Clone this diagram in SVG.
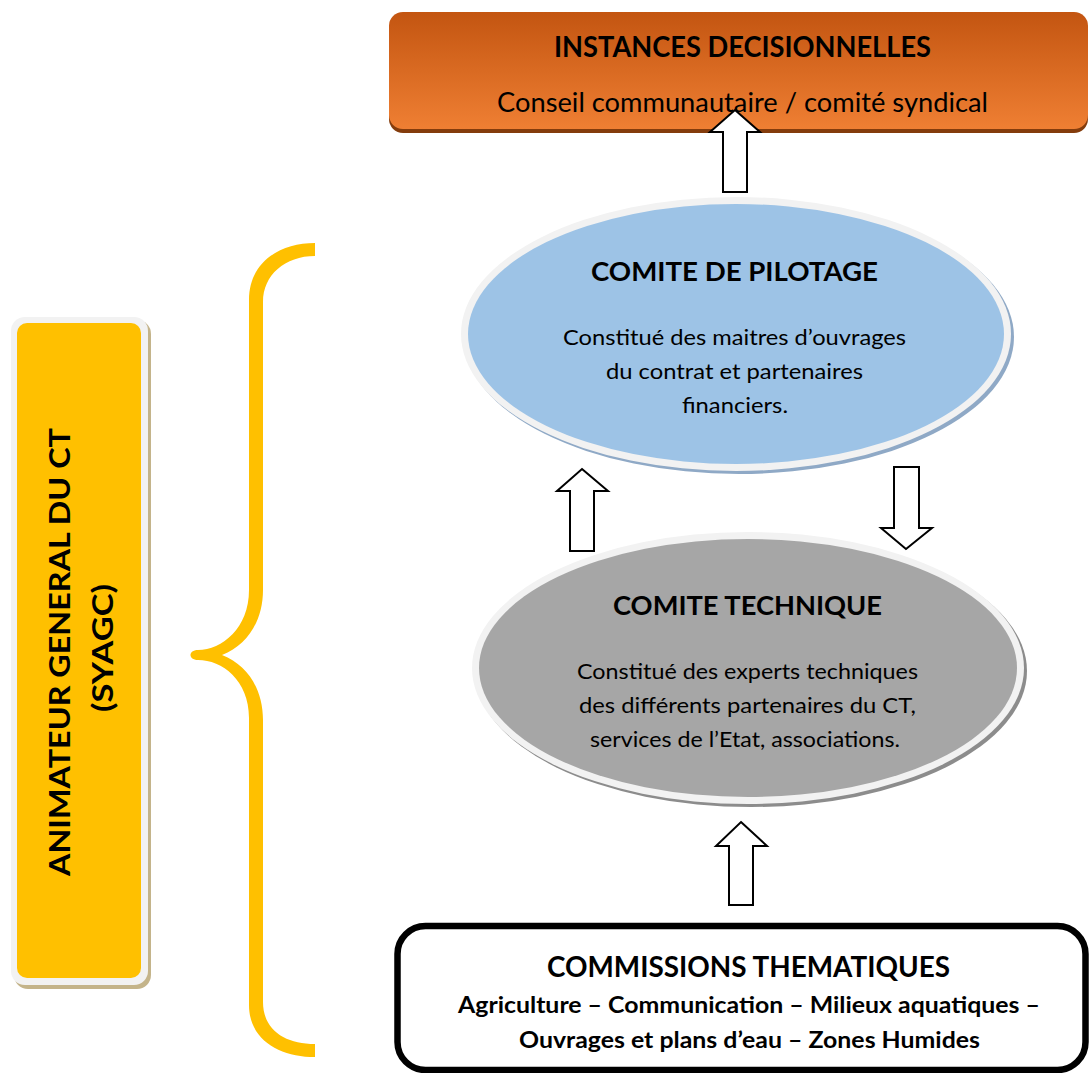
<svg xmlns="http://www.w3.org/2000/svg" width="1089" height="1073" viewBox="0 0 1089 1073">
<defs>
<linearGradient id="orange" x1="0" y1="0" x2="0" y2="1">
<stop offset="0" stop-color="#C35511"/>
<stop offset="1" stop-color="#EF7F33"/>
</linearGradient>
<style>
.t{font-family:Lato,"Liberation Sans",sans-serif;fill:#000;text-anchor:middle}
.b{font-weight:bold}
.arrow{fill:#fff;stroke:#000;stroke-width:2;stroke-linejoin:miter}
</style>
</defs>
<rect width="1089" height="1073" fill="#fff"/>

<g id="brace">
<path fill="#FFC000" d="M315,243 C280,243 249,262 249,300 L249,590 C249,628 222,650 198,650 C188,650 188,660 198,660 C222,660 249,680 249,718 L249,1005 C249,1040 280,1057 315,1057 L315,1044 C285,1044 263,1030 263,1002 L263,720 C263,690 248,665 222,655 C248,645 263,620 263,590 L263,302 C263,275 285,256 315,256 Z"/>
</g>

<g id="animateur">
<rect x="14" y="320" width="137" height="669" rx="14" fill="#C4B48A"/>
<rect x="11" y="317" width="137" height="668" rx="14" fill="#F2F2F2"/>
<rect x="17" y="323" width="124" height="655" rx="10" fill="#FFC000"/>
<text class="t b" transform="translate(70,652) rotate(-90)" font-size="29" textLength="448" lengthAdjust="spacingAndGlyphs">ANIMATEUR GENERAL DU CT</text>
<text class="t b" transform="translate(113,648) rotate(-90)" font-size="29" textLength="128" lengthAdjust="spacingAndGlyphs">(SYAGC)</text>
</g>

<g id="instances">
<rect x="389" y="16" width="699" height="117" rx="14" fill="#843C0C"/>
<rect x="389" y="12" width="699" height="117" rx="14" fill="url(#orange)"/>
<text class="t b" x="742.5" y="57" font-size="28" textLength="377" lengthAdjust="spacingAndGlyphs">INSTANCES DECISIONNELLES</text>
<text class="t" x="742.5" y="112" font-size="27" textLength="491" lengthAdjust="spacingAndGlyphs">Conseil communautaire / comité syndical</text>
</g>

<g id="pilotage">
<ellipse cx="739" cy="337" rx="275" ry="137" fill="#8FA9C6"/>
<ellipse cx="736" cy="334" rx="275" ry="137" fill="#F2F2F2"/>
<ellipse cx="736" cy="334" rx="268" ry="130" fill="#9DC3E6"/>
<text class="t b" x="734.5" y="281" font-size="27" textLength="287" lengthAdjust="spacingAndGlyphs">COMITE DE PILOTAGE</text>
<text class="t" x="734.5" y="345" font-size="22" textLength="343" lengthAdjust="spacingAndGlyphs">Constitué des maitres d’ouvrages</text>
<text class="t" x="734.5" y="379" font-size="22" textLength="257" lengthAdjust="spacingAndGlyphs">du contrat et partenaires</text>
<text class="t" x="735" y="413" font-size="22" textLength="106" lengthAdjust="spacingAndGlyphs">financiers.</text>
</g>

<g id="technique">
<ellipse cx="751" cy="671" rx="276" ry="136" fill="#8C8C8C"/>
<ellipse cx="748" cy="668" rx="276" ry="136" fill="#F2F2F2"/>
<ellipse cx="748" cy="668" rx="269" ry="129" fill="#A6A6A6"/>
<text class="t b" x="747.5" y="615" font-size="27" textLength="269" lengthAdjust="spacingAndGlyphs">COMITE TECHNIQUE</text>
<text class="t" x="747.5" y="679" font-size="22" textLength="341" lengthAdjust="spacingAndGlyphs">Constitué des experts techniques</text>
<text class="t" x="747.5" y="713" font-size="22" textLength="337" lengthAdjust="spacingAndGlyphs">des différents partenaires du CT,</text>
<text class="t" x="745" y="747" font-size="22" textLength="310" lengthAdjust="spacingAndGlyphs">services de l’Etat, associations.</text>
</g>

<g id="commissions">
<rect x="397.5" y="926" width="688" height="144" rx="28" fill="#fff" stroke="#000" stroke-width="6.5"/>
<text class="t b" x="748.5" y="977" font-size="28" textLength="403" lengthAdjust="spacingAndGlyphs">COMMISSIONS THEMATIQUES</text>
<text class="t b" x="749" y="1013" font-size="22" textLength="582" lengthAdjust="spacingAndGlyphs">Agriculture – Communication – Milieux aquatiques –</text>
<text class="t b" x="749.5" y="1048" font-size="22" textLength="461" lengthAdjust="spacingAndGlyphs">Ouvrages et plans d’eau – Zones Humides</text>
</g>

<g id="connectors">
<polygon class="arrow" points="735,110 760,132 747,132 747,192 723,192 723,132 710,132"/>
<polygon class="arrow" points="582,469 608,491 594,491 594,551 570,551 570,491 557,491"/>
<polygon class="arrow" points="894,467 919,467 919,528 932,528 906,549 881,528 894,528"/>
<polygon class="arrow" points="741,822 767,846 753,846 753,905 729,905 729,846 716,846"/>
</g>
</svg>
